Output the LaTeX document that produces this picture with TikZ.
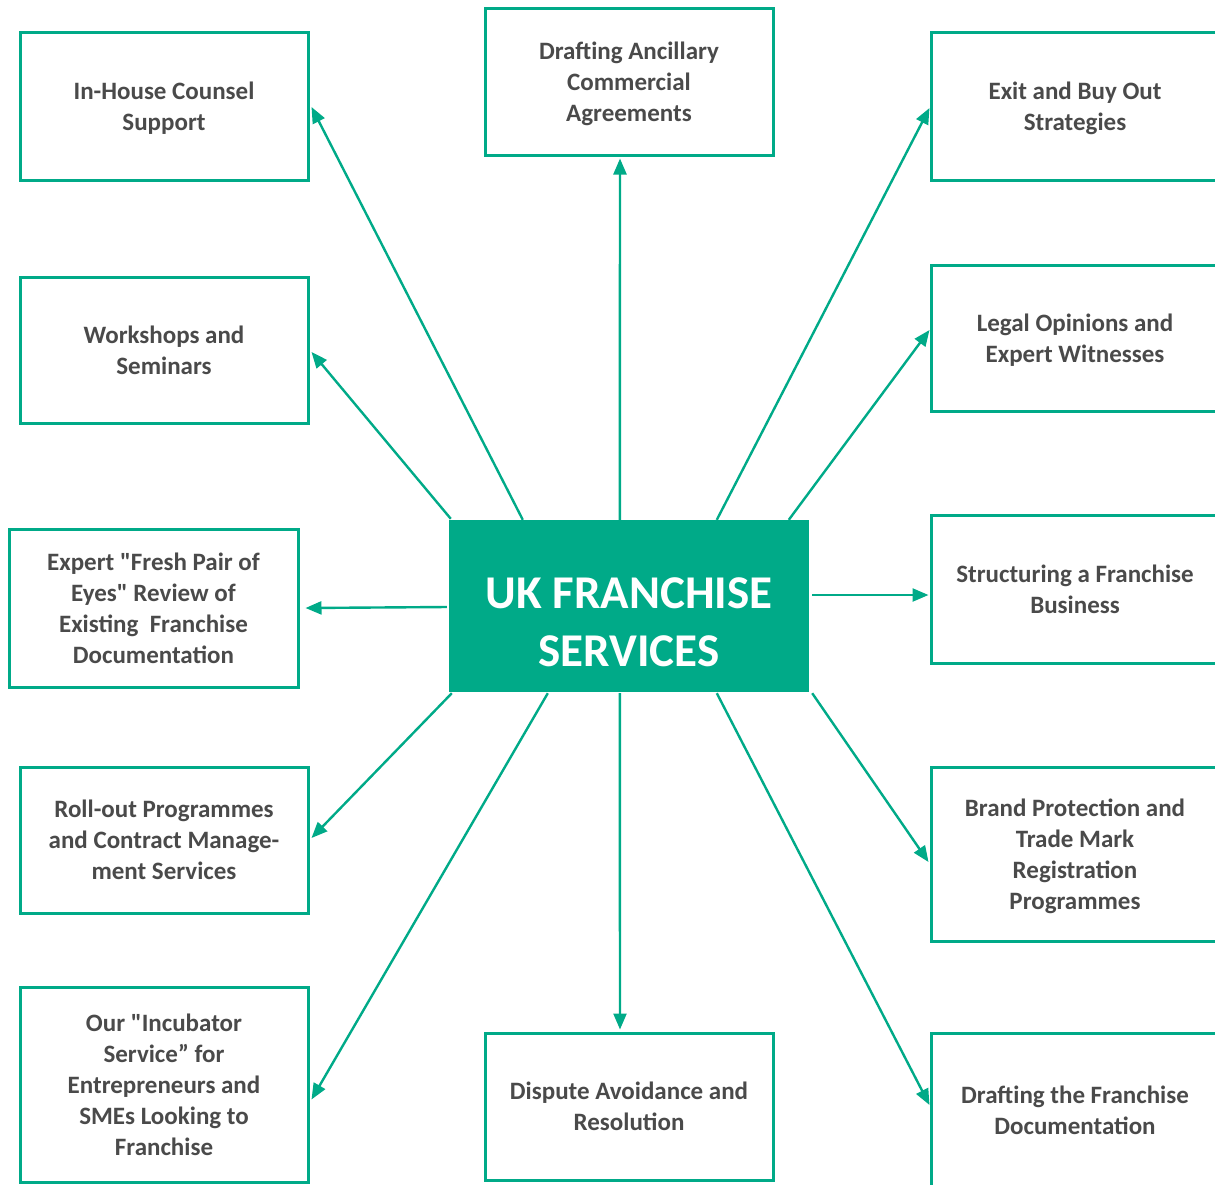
\documentclass[tikz,border=0pt]{standalone}
\usepackage{fontspec}
% plain quotes must stay straight, so the TeX input ligatures are off
\setmainfont{Carlito}[Ligatures=TeXOff]
\usetikzlibrary{arrows.meta,calc}
\definecolor{teal}{RGB}{0,170,136}
\definecolor{ink}{RGB}{74,74,74}
\begin{document}
\begin{tikzpicture}[x=1pt,y=-1pt,
  svcbox/.style={draw=teal,line width=3pt,fill=white,minimum width=288pt,
    inner sep=0pt,align=center,text=ink,text depth=0pt,
    font=\fontsize{25}{31}\selectfont\bfseries},
  link/.style={draw=teal,line width=2.4pt,
    -{Triangle[length=16pt,width=13pt]}}]
\useasboundingbox (0,0) rectangle (1215,1184);

% central hub
\node[fill=teal,minimum width=360pt,minimum height=172pt,inner sep=0pt]
  (hub) at (629,606) {};
\node[text=white,align=center,font=\fontsize{47}{58}\selectfont\bfseries]
  (hubtext) at (629,622) {UK FRANCHISE\\SERVICES};

% left column
\node[svcbox,minimum height=148pt] (ih) at (164,106) {In-House Counsel\\Support};
\node[svcbox,minimum height=146pt] (ws) at (164,350) {Workshops and\\Seminars};
\node[svcbox,minimum height=158pt,minimum width=289pt] (ex) at (153.5,608)
  {Expert "Fresh Pair of\\Eyes" Review of\\Existing~ Franchise\\Documentation};
\node[svcbox,minimum height=146pt] (ro) at (164,840)
  {Roll-out Programmes\\and Contract Manage-\\ment Services};
\node[svcbox,minimum height=195pt] (inc) at (164,1084.5)
  {Our "Incubator\\Service” for\\Entrepreneurs and\\SMEs Looking to\\Franchise};

% centre column
\node[svcbox,minimum height=147pt] (da) at (629,81.5)
  {Drafting Ancillary\\Commercial\\Agreements};
\node[svcbox,minimum height=147pt] (dp) at (629,1106.5)
  {Dispute Avoidance and\\Resolution};

% right column
\node[svcbox,minimum height=148pt] (eb) at (1075,106) {Exit and Buy Out\\Strategies};
\node[svcbox,minimum height=146pt] (lo) at (1075,338) {Legal Opinions and\\Expert Witnesses};
\node[svcbox,minimum height=148pt] (sf) at (1075,589) {Structuring a Franchise\\Business};
\node[svcbox,minimum height=174pt] (bp) at (1075,854)
  {Brand Protection and\\Trade Mark\\Registration\\Programmes};
\node[svcbox,minimum height=154pt] (df) at (1075,1110)
  {Drafting the Franchise\\Documentation};

% connectors from the hub
\draw[link] ($(hub.north west)+(74,0)$) -- ($(ih.east)+(2,1)$);
\draw[link] ($(hub.north west)+(2,-1)$) -- ($(ws.east)+(2,2)$);
\draw[link] ($(hub.west)+(-2,1)$) -- ($(ex.east)+(6,0)$);
\draw[link] ($(hub.south west)+(3,1)$) -- ($(ro.east)+(2,-2)$);
\draw[link] ($(hub.south west)+(99,1)$) -- ($(inc.east)+(2,15)$);
\draw[link] ($(hub.north west)+(171,0)$) -- ($(da.south)+(-9,2)$);
\draw[link] ($(hub.south west)+(171,1)$) -- ($(dp.north)+(-9,-2)$);
\draw[link] ($(hub.north west)+(268,0)$) -- ($(eb.west)+(0,2)$);
\draw[link] ($(hub.north west)+(340,0)$) -- ($(lo.west)+(0,-8)$);
\draw[link] ($(hub.east)+(3,-11)$) -- ($(sf.west)+(-1,6)$);
\draw[link] ($(hub.south east)+(3,1)$) -- ($(bp.west)+(-1,8)$);
\draw[link] ($(hub.south west)+(268,1)$) -- ($(df.west)+(0,-5)$);
\end{tikzpicture}
\end{document}
